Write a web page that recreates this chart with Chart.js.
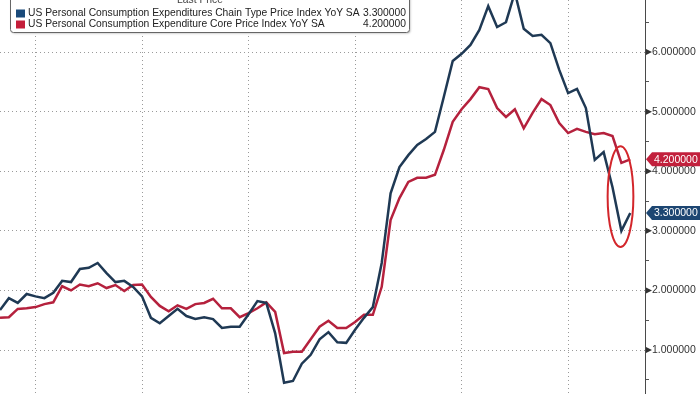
<!DOCTYPE html>
<html>
<head>
<meta charset="utf-8">
<script src="https://cdn.jsdelivr.net/npm/chart.js@4.4.0/dist/chart.umd.min.js"></script>
<style>
  html, body { margin: 0; padding: 0; background: #fff; }
  #wrap { width: 700px; height: 394px; position: relative; }
</style>
</head>
<body>
<div id="wrap"><canvas id="pceChart"></canvas></div>
<script>
// monthly, Aug 2017 .. Jul 2023
const monthNames = ['Jan','Feb','Mar','Apr','May','Jun','Jul','Aug','Sep','Oct','Nov','Dec'];
const months = [];
for (let i = 0; i < 72; i++) {
    months.push(monthNames[(7 + i) % 12] + ' ' + (2017 + Math.floor((7 + i) / 12)));
}

const headline = [
    1.67, 1.87, 1.79, 1.94, 1.90, 1.87, 1.96, 2.16, 2.14, 2.36, 2.38, 2.46,
    2.29, 2.14, 2.16, 2.06, 1.90, 1.54, 1.45, 1.57, 1.69, 1.57, 1.52, 1.55,
    1.52, 1.37, 1.39, 1.39, 1.60, 1.82, 1.79, 1.28, 0.45, 0.48, 0.77, 0.92,
    1.18, 1.30, 1.13, 1.12, 1.34, 1.54, 1.72, 2.46, 3.63, 4.07, 4.27, 4.44,
    4.54, 4.66, 5.25, 5.85, 5.97, 6.12, 6.37, 6.77, 6.42, 6.50, 7.00, 6.39,
    6.27, 6.29, 6.15, 5.70, 5.31, 5.38, 5.06, 4.19, 4.32, 3.73, 3.00, 3.30
];
const core = [
    1.54, 1.55, 1.69, 1.70, 1.72, 1.77, 1.80, 2.07, 2.00, 2.10, 2.07, 2.12,
    2.04, 2.09, 1.99, 2.09, 2.10, 1.89, 1.74, 1.65, 1.75, 1.69, 1.77, 1.79,
    1.86, 1.70, 1.70, 1.55, 1.62, 1.70, 1.80, 1.64, 0.95, 0.97, 0.97, 1.18,
    1.39, 1.49, 1.37, 1.37, 1.47, 1.59, 1.59, 2.06, 3.18, 3.55, 3.82, 3.89,
    3.89, 3.94, 4.36, 4.83, 5.04, 5.21, 5.41, 5.38, 5.06, 4.91, 5.04, 4.72,
    4.98, 5.21, 5.11, 4.81, 4.64, 4.71, 4.66, 4.62, 4.64, 4.59, 4.14, 4.20
];

const headlineName = 'US Personal Consumption Expenditures Chain Type Price Index YoY SA';
const coreName = 'US Personal Consumption Expenditure Core Price Index YoY SA';
const yMajor = [1, 2, 3, 4, 5, 6];
const yMinor = [0.5, 1.5, 2.5, 3.5, 4.5, 5.5, 6.5];

const navy = '#1f3954';
const red = '#b5213d';
const font = 'Liberation Sans';

// vertical grid at each December
const yearEnds = months.map((m, i) => m.startsWith('Dec') ? i : -1).filter(i => i >= 0);

const overlay = {
    id: 'overlay',
    afterDraw(chart) {
        const { ctx, chartArea, scales: { x, y } } = chart;
        ctx.save();

        // arrow heads on the major ticks
        ctx.fillStyle = '#333';
        yMajor.forEach(v => {
            const py = y.getPixelForValue(v);
            ctx.beginPath();
            ctx.moveTo(chartArea.right + 1, py - 3);
            ctx.lineTo(chartArea.right + 7, py);
            ctx.lineTo(chartArea.right + 1, py + 3);
            ctx.fill();
        });

        // red ring round the latest readings
        const cx = x.getPixelForValue(69.9);
        const rx = x.getPixelForValue(71.35) - cx;
        const yTop = y.getPixelForValue(4.42);
        const yBot = y.getPixelForValue(2.73);
        ctx.strokeStyle = '#d3262b';
        ctx.lineWidth = 2;
        ctx.beginPath();
        ctx.ellipse(cx, (yTop + yBot) / 2, rx, (yBot - yTop) / 2, 0, 0, Math.PI * 2);
        ctx.stroke();

        // last value tags
        const tags = [
            { v: core[core.length - 1], c: '#c2203c' },
            { v: headline[headline.length - 1], c: '#1d4672' }
        ];
        ctx.font = '10.5px "' + font + '"';
        ctx.textBaseline = 'middle';
        ctx.textAlign = 'left';
        tags.forEach(t => {
            const py = y.getPixelForValue(t.v);
            const l = chartArea.right + 1;
            ctx.fillStyle = t.c;
            ctx.beginPath();
            ctx.moveTo(l, py);
            ctx.lineTo(l + 6, py - 7);
            ctx.lineTo(700, py - 7);
            ctx.lineTo(700, py + 7);
            ctx.lineTo(l + 6, py + 7);
            ctx.closePath();
            ctx.fill();
            ctx.fillStyle = '#fff';
            ctx.fillText(t.v.toFixed(6), l + 8, py + 0.5);
        });

        // legend box
        ctx.shadowColor = 'rgba(0,0,0,0.25)';
        ctx.shadowOffsetX = 1;
        ctx.shadowOffsetY = 1;
        ctx.shadowBlur = 2;
        ctx.fillStyle = '#fff';
        ctx.beginPath();
        ctx.roundRect(10.5, -6.5, 399, 39, 3);
        ctx.fill();
        ctx.shadowColor = 'transparent';
        ctx.strokeStyle = '#666';
        ctx.lineWidth = 1;
        ctx.stroke();

        ctx.font = '10.3px "' + font + '"';
        ctx.fillStyle = '#444';
        ctx.textAlign = 'center';
        ctx.textBaseline = 'alphabetic';
        ctx.fillText('Last Price', 200, 3);

        const rows = [
            { name: headlineName, v: headline[headline.length - 1], c: '#1a4a7a', y: 13.5 },
            { name: coreName, v: core[core.length - 1], c: '#c41e3a', y: 24.5 }
        ];
        ctx.textBaseline = 'middle';
        rows.forEach(r => {
            ctx.fillStyle = r.c;
            ctx.fillRect(16, r.y - 4, 9, 8);
            ctx.fillStyle = '#222';
            ctx.textAlign = 'left';
            ctx.fillText(r.name, 28, r.y);
            ctx.textAlign = 'right';
            ctx.fillText(r.v.toFixed(6), 406, r.y);
        });

        ctx.restore();
    }
};

new Chart(document.getElementById('pceChart'), {
    type: 'line',
    data: {
        datasets: [
            {
                label: headlineName,
                data: headline.map((v, i) => ({ x: i, y: v })),
                borderColor: navy,
                borderWidth: 2.5,
                pointRadius: 0,
                tension: 0
            },
            {
                label: coreName,
                data: core.map((v, i) => ({ x: i, y: v })),
                borderColor: red,
                borderWidth: 2.5,
                pointRadius: 0,
                tension: 0
            }
        ]
    },
    options: {
        responsive: true,
        maintainAspectRatio: false,
        animation: false,
        devicePixelRatio: 1,
        layout: { padding: 0 },
        plugins: {
            legend: { display: false },
            tooltip: { enabled: false }
        },
        scales: {
            x: {
                type: 'linear',
                min: 0,
                max: 72.66,
                afterBuildTicks: s => { s.ticks = yearEnds.map(v => ({ value: v })); },
                afterFit: s => { s.height = 0; s.paddingLeft = 0; s.paddingRight = 0; },
                ticks: { display: false },
                grid: { color: '#9a9a9a', drawTicks: false },
                border: { display: false, dash: [1, 3] }
            },
            y: {
                position: 'right',
                min: 0.262,
                max: 6.873,
                afterBuildTicks: s => {
                    s.ticks = yMajor.concat(yMinor).sort((a, b) => a - b).map(v => ({ value: v }));
                },
                afterFit: s => { s.width = 55; s.paddingTop = 0; s.paddingBottom = 0; },
                ticks: {
                    padding: 3,
                    color: '#333',
                    font: { family: font, size: 10.5 },
                    callback: v => yMajor.includes(v) ? v.toFixed(6) : ''
                },
                grid: {
                    color: c => (c.tick && yMajor.includes(c.tick.value)) ? '#9a9a9a' : 'rgba(0,0,0,0)',
                    tickColor: '#555',
                    tickLength: 4
                },
                border: { display: true, color: '#4a4a4a', width: 1, dash: [1, 3] }
            }
        }
    },
    plugins: [overlay]
});
</script>
</body>
</html>
